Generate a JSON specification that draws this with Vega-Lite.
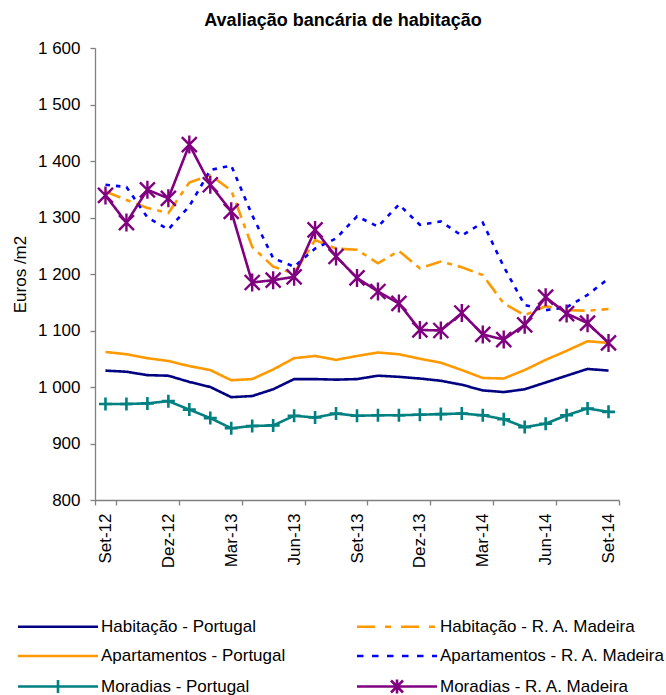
{
"$schema":"https://vega.github.io/schema/vega-lite/v6.json",
"autosize":{"type":"none"},
"width":524,"height":452,
"padding":{"left":95,"top":48,"right":47,"bottom":195},
"config":{"font":"Liberation Sans","view":{"stroke":null},
 "axis":{"domainColor":"#808080","tickColor":"#808080","labelColor":"#000","titleColor":"#000","labelFontSize":17,"titleFontSize":17,"titleFontWeight":"normal","grid":false,"tickSize":5,"domainWidth":1.3,"tickWidth":1.3},
 "legend":{"title":null,"orient":"none","legendX":-77,"legendY":567,"columns":2,"columnPadding":65,"rowPadding":9.5,"symbolSize":400,"symbolStrokeWidth":2.6,"labelFontSize":17,"labelColor":"#000","labelOffset":60,"symbolOffset":0,"padding":0,"labelLimit":400}},
"title":{"text":"Avaliação bancária de habitação","fontSize":18,"fontWeight":"bold","color":"#000","anchor":"middle","dx":-14,"offset":9},
"datasets":{"d":[
{"s":"Habitação - Portugal","m":"Set-12","v":1029},{"s":"Habitação - Portugal","m":"Out-12","v":1027},{"s":"Habitação - Portugal","m":"Nov-12","v":1021},{"s":"Habitação - Portugal","m":"Dez-12","v":1020},{"s":"Habitação - Portugal","m":"Jan-13","v":1009},{"s":"Habitação - Portugal","m":"Fev-13","v":1000},{"s":"Habitação - Portugal","m":"Mar-13","v":982},{"s":"Habitação - Portugal","m":"Abr-13","v":984},{"s":"Habitação - Portugal","m":"Mai-13","v":996},{"s":"Habitação - Portugal","m":"Jun-13","v":1014},{"s":"Habitação - Portugal","m":"Jul-13","v":1014},{"s":"Habitação - Portugal","m":"Ago-13","v":1013},{"s":"Habitação - Portugal","m":"Set-13","v":1014},{"s":"Habitação - Portugal","m":"Out-13","v":1020},{"s":"Habitação - Portugal","m":"Nov-13","v":1018},{"s":"Habitação - Portugal","m":"Dez-13","v":1015},{"s":"Habitação - Portugal","m":"Jan-14","v":1011},{"s":"Habitação - Portugal","m":"Fev-14","v":1004},{"s":"Habitação - Portugal","m":"Mar-14","v":994},{"s":"Habitação - Portugal","m":"Abr-14","v":991},{"s":"Habitação - Portugal","m":"Mai-14","v":996},{"s":"Habitação - Portugal","m":"Jun-14","v":1008},{"s":"Habitação - Portugal","m":"Jul-14","v":1020},{"s":"Habitação - Portugal","m":"Ago-14","v":1032},{"s":"Habitação - Portugal","m":"Set-14","v":1029},
{"s":"Habitação - R. A. Madeira","m":"Set-12","v":1346},{"s":"Habitação - R. A. Madeira","m":"Out-12","v":1331},{"s":"Habitação - R. A. Madeira","m":"Nov-12","v":1317},{"s":"Habitação - R. A. Madeira","m":"Dez-12","v":1308},{"s":"Habitação - R. A. Madeira","m":"Jan-13","v":1362},{"s":"Habitação - R. A. Madeira","m":"Fev-13","v":1375},{"s":"Habitação - R. A. Madeira","m":"Mar-13","v":1348},{"s":"Habitação - R. A. Madeira","m":"Abr-13","v":1248},{"s":"Habitação - R. A. Madeira","m":"Mai-13","v":1213},{"s":"Habitação - R. A. Madeira","m":"Jun-13","v":1201},{"s":"Habitação - R. A. Madeira","m":"Jul-13","v":1260},{"s":"Habitação - R. A. Madeira","m":"Ago-13","v":1245},{"s":"Habitação - R. A. Madeira","m":"Set-13","v":1243},{"s":"Habitação - R. A. Madeira","m":"Out-13","v":1219},{"s":"Habitação - R. A. Madeira","m":"Nov-13","v":1241},{"s":"Habitação - R. A. Madeira","m":"Dez-13","v":1210},{"s":"Habitação - R. A. Madeira","m":"Jan-14","v":1222},{"s":"Habitação - R. A. Madeira","m":"Fev-14","v":1212},{"s":"Habitação - R. A. Madeira","m":"Mar-14","v":1198},{"s":"Habitação - R. A. Madeira","m":"Abr-14","v":1148},{"s":"Habitação - R. A. Madeira","m":"Mai-14","v":1127},{"s":"Habitação - R. A. Madeira","m":"Jun-14","v":1143},{"s":"Habitação - R. A. Madeira","m":"Jul-14","v":1136},{"s":"Habitação - R. A. Madeira","m":"Ago-14","v":1135},{"s":"Habitação - R. A. Madeira","m":"Set-14","v":1138},
{"s":"Apartamentos - Portugal","m":"Set-12","v":1062},{"s":"Apartamentos - Portugal","m":"Out-12","v":1058},{"s":"Apartamentos - Portugal","m":"Nov-12","v":1051},{"s":"Apartamentos - Portugal","m":"Dez-12","v":1046},{"s":"Apartamentos - Portugal","m":"Jan-13","v":1037},{"s":"Apartamentos - Portugal","m":"Fev-13","v":1030},{"s":"Apartamentos - Portugal","m":"Mar-13","v":1012},{"s":"Apartamentos - Portugal","m":"Abr-13","v":1014},{"s":"Apartamentos - Portugal","m":"Mai-13","v":1031},{"s":"Apartamentos - Portugal","m":"Jun-13","v":1051},{"s":"Apartamentos - Portugal","m":"Jul-13","v":1055},{"s":"Apartamentos - Portugal","m":"Ago-13","v":1048},{"s":"Apartamentos - Portugal","m":"Set-13","v":1055},{"s":"Apartamentos - Portugal","m":"Out-13","v":1061},{"s":"Apartamentos - Portugal","m":"Nov-13","v":1058},{"s":"Apartamentos - Portugal","m":"Dez-13","v":1050},{"s":"Apartamentos - Portugal","m":"Jan-14","v":1043},{"s":"Apartamentos - Portugal","m":"Fev-14","v":1030},{"s":"Apartamentos - Portugal","m":"Mar-14","v":1016},{"s":"Apartamentos - Portugal","m":"Abr-14","v":1015},{"s":"Apartamentos - Portugal","m":"Mai-14","v":1030},{"s":"Apartamentos - Portugal","m":"Jun-14","v":1048},{"s":"Apartamentos - Portugal","m":"Jul-14","v":1064},{"s":"Apartamentos - Portugal","m":"Ago-14","v":1081},{"s":"Apartamentos - Portugal","m":"Set-14","v":1078},
{"s":"Apartamentos - R. A. Madeira","m":"Set-12","v":1358},{"s":"Apartamentos - R. A. Madeira","m":"Out-12","v":1354},{"s":"Apartamentos - R. A. Madeira","m":"Nov-12","v":1300},{"s":"Apartamentos - R. A. Madeira","m":"Dez-12","v":1279},{"s":"Apartamentos - R. A. Madeira","m":"Jan-13","v":1320},{"s":"Apartamentos - R. A. Madeira","m":"Fev-13","v":1384},{"s":"Apartamentos - R. A. Madeira","m":"Mar-13","v":1392},{"s":"Apartamentos - R. A. Madeira","m":"Abr-13","v":1304},{"s":"Apartamentos - R. A. Madeira","m":"Mai-13","v":1228},{"s":"Apartamentos - R. A. Madeira","m":"Jun-13","v":1213},{"s":"Apartamentos - R. A. Madeira","m":"Jul-13","v":1245},{"s":"Apartamentos - R. A. Madeira","m":"Ago-13","v":1263},{"s":"Apartamentos - R. A. Madeira","m":"Set-13","v":1302},{"s":"Apartamentos - R. A. Madeira","m":"Out-13","v":1284},{"s":"Apartamentos - R. A. Madeira","m":"Nov-13","v":1323},{"s":"Apartamentos - R. A. Madeira","m":"Dez-13","v":1287},{"s":"Apartamentos - R. A. Madeira","m":"Jan-14","v":1293},{"s":"Apartamentos - R. A. Madeira","m":"Fev-14","v":1268},{"s":"Apartamentos - R. A. Madeira","m":"Mar-14","v":1291},{"s":"Apartamentos - R. A. Madeira","m":"Abr-14","v":1213},{"s":"Apartamentos - R. A. Madeira","m":"Mai-14","v":1145},{"s":"Apartamentos - R. A. Madeira","m":"Jun-14","v":1136},{"s":"Apartamentos - R. A. Madeira","m":"Jul-14","v":1141},{"s":"Apartamentos - R. A. Madeira","m":"Ago-14","v":1163},{"s":"Apartamentos - R. A. Madeira","m":"Set-14","v":1192},
{"s":"Moradias - Portugal","m":"Set-12","v":970},{"s":"Moradias - Portugal","m":"Out-12","v":970},{"s":"Moradias - Portugal","m":"Nov-12","v":971},{"s":"Moradias - Portugal","m":"Dez-12","v":975},{"s":"Moradias - Portugal","m":"Jan-13","v":960},{"s":"Moradias - Portugal","m":"Fev-13","v":945},{"s":"Moradias - Portugal","m":"Mar-13","v":927},{"s":"Moradias - Portugal","m":"Abr-13","v":931},{"s":"Moradias - Portugal","m":"Mai-13","v":932},{"s":"Moradias - Portugal","m":"Jun-13","v":949},{"s":"Moradias - Portugal","m":"Jul-13","v":946},{"s":"Moradias - Portugal","m":"Ago-13","v":953},{"s":"Moradias - Portugal","m":"Set-13","v":949},{"s":"Moradias - Portugal","m":"Out-13","v":950},{"s":"Moradias - Portugal","m":"Nov-13","v":950},{"s":"Moradias - Portugal","m":"Dez-13","v":951},{"s":"Moradias - Portugal","m":"Jan-14","v":952},{"s":"Moradias - Portugal","m":"Fev-14","v":953},{"s":"Moradias - Portugal","m":"Mar-14","v":950},{"s":"Moradias - Portugal","m":"Abr-14","v":943},{"s":"Moradias - Portugal","m":"Mai-14","v":929},{"s":"Moradias - Portugal","m":"Jun-14","v":935},{"s":"Moradias - Portugal","m":"Jul-14","v":950},{"s":"Moradias - Portugal","m":"Ago-14","v":962},{"s":"Moradias - Portugal","m":"Set-14","v":956},
{"s":"Moradias - R. A. Madeira","m":"Set-12","v":1339},{"s":"Moradias - R. A. Madeira","m":"Out-12","v":1291},{"s":"Moradias - R. A. Madeira","m":"Nov-12","v":1349},{"s":"Moradias - R. A. Madeira","m":"Dez-12","v":1334},{"s":"Moradias - R. A. Madeira","m":"Jan-13","v":1429},{"s":"Moradias - R. A. Madeira","m":"Fev-13","v":1358},{"s":"Moradias - R. A. Madeira","m":"Mar-13","v":1311},{"s":"Moradias - R. A. Madeira","m":"Abr-13","v":1185},{"s":"Moradias - R. A. Madeira","m":"Mai-13","v":1189},{"s":"Moradias - R. A. Madeira","m":"Jun-13","v":1195},{"s":"Moradias - R. A. Madeira","m":"Jul-13","v":1278},{"s":"Moradias - R. A. Madeira","m":"Ago-13","v":1231},{"s":"Moradias - R. A. Madeira","m":"Set-13","v":1193},{"s":"Moradias - R. A. Madeira","m":"Out-13","v":1169},{"s":"Moradias - R. A. Madeira","m":"Nov-13","v":1148},{"s":"Moradias - R. A. Madeira","m":"Dez-13","v":1101},{"s":"Moradias - R. A. Madeira","m":"Jan-14","v":1100},{"s":"Moradias - R. A. Madeira","m":"Fev-14","v":1131},{"s":"Moradias - R. A. Madeira","m":"Mar-14","v":1093},{"s":"Moradias - R. A. Madeira","m":"Abr-14","v":1084},{"s":"Moradias - R. A. Madeira","m":"Mai-14","v":1110},{"s":"Moradias - R. A. Madeira","m":"Jun-14","v":1159},{"s":"Moradias - R. A. Madeira","m":"Jul-14","v":1130},{"s":"Moradias - R. A. Madeira","m":"Ago-14","v":1113},{"s":"Moradias - R. A. Madeira","m":"Set-14","v":1078}
]},
"data":{"name":"d"},
"encoding":{
 "x":{"field":"m","type":"ordinal","sort":null,"scale":{"type":"band","paddingInner":0,"paddingOuter":0},
  "axis":{"title":null,"values":["Set-12","Dez-12","Mar-13","Jun-13","Set-13","Dez-13","Mar-14","Jun-14","Set-14"],"labelAngle":-90,"labelPadding":8,"tickBand":"extent","tickExtra":false}},
 "y":{"field":"v","type":"quantitative","scale":{"domain":[800,1600],"nice":false,"zero":false},
  "axis":{"title":"Euros /m2","values":[800,900,1000,1100,1200,1300,1400,1500,1600],"labelExpr":"replace(format(datum.value, ','), ',', ' ')","labelPadding":10,"titlePadding":8}},
 "color":{"field":"s","type":"nominal","scale":{"domain":["Habitação - Portugal","Apartamentos - Portugal","Moradias - Portugal","Habitação - R. A. Madeira","Apartamentos - R. A. Madeira","Moradias - R. A. Madeira"],"range":["#000080","#FF9900","#008080","#FF9900","#0000FF","#800080"]}}
},
"layer":[
 {"mark":{"type":"line","strokeWidth":2.6},
  "encoding":{
   "strokeDash":{"field":"s","type":"nominal","scale":{"range":[[1,0],[4.5,6],[1,0],[16,6,5,6],[1,0],[1,0]]},"legend":null}
  }},
 {"transform":[{"filter":"datum.s == 'Moradias - Portugal'"}],
  "mark":{"type":"point","shape":"M-1,0H1M0,-1V1","size":169,"filled":false,"strokeWidth":2.6,"opacity":1}},
 {"transform":[{"filter":"datum.s == 'Moradias - R. A. Madeira'"}],
  "mark":{"type":"point","shape":"M-1,-1L1,1M-1,1L1,-1M0,-1.2V1.2","size":225,"filled":false,"strokeWidth":2.4,"opacity":1}},
 {"transform":[{"filter":"datum.v < 0"}],
  "mark":{"type":"point","filled":false,"strokeWidth":2.6,"opacity":1},
  "encoding":{
   "shape":{"field":"s","type":"nominal","scale":{"domain":["Habitação - Portugal","Apartamentos - Portugal","Moradias - Portugal","Habitação - R. A. Madeira","Apartamentos - R. A. Madeira","Moradias - R. A. Madeira"],"range":["M-1.15,0H6.85","M-1.15,0H6.85","M-1.15,0H6.85M2.85,-0.65V0.65","M-1.15,0H0.65M1.65,0H2.25M3.25,0H5.05M6.05,0H6.65","M-1.15,0H-0.5M0.35,0H1M1.85,0H2.5M3.35,0H4M4.85,0H5.5M6.35,0H6.85","M-1.15,0H6.85M2.25,-0.6L3.45,0.6M2.25,0.6L3.45,-0.6M2.85,-0.7V0.7"]}}
  }}
]
}
